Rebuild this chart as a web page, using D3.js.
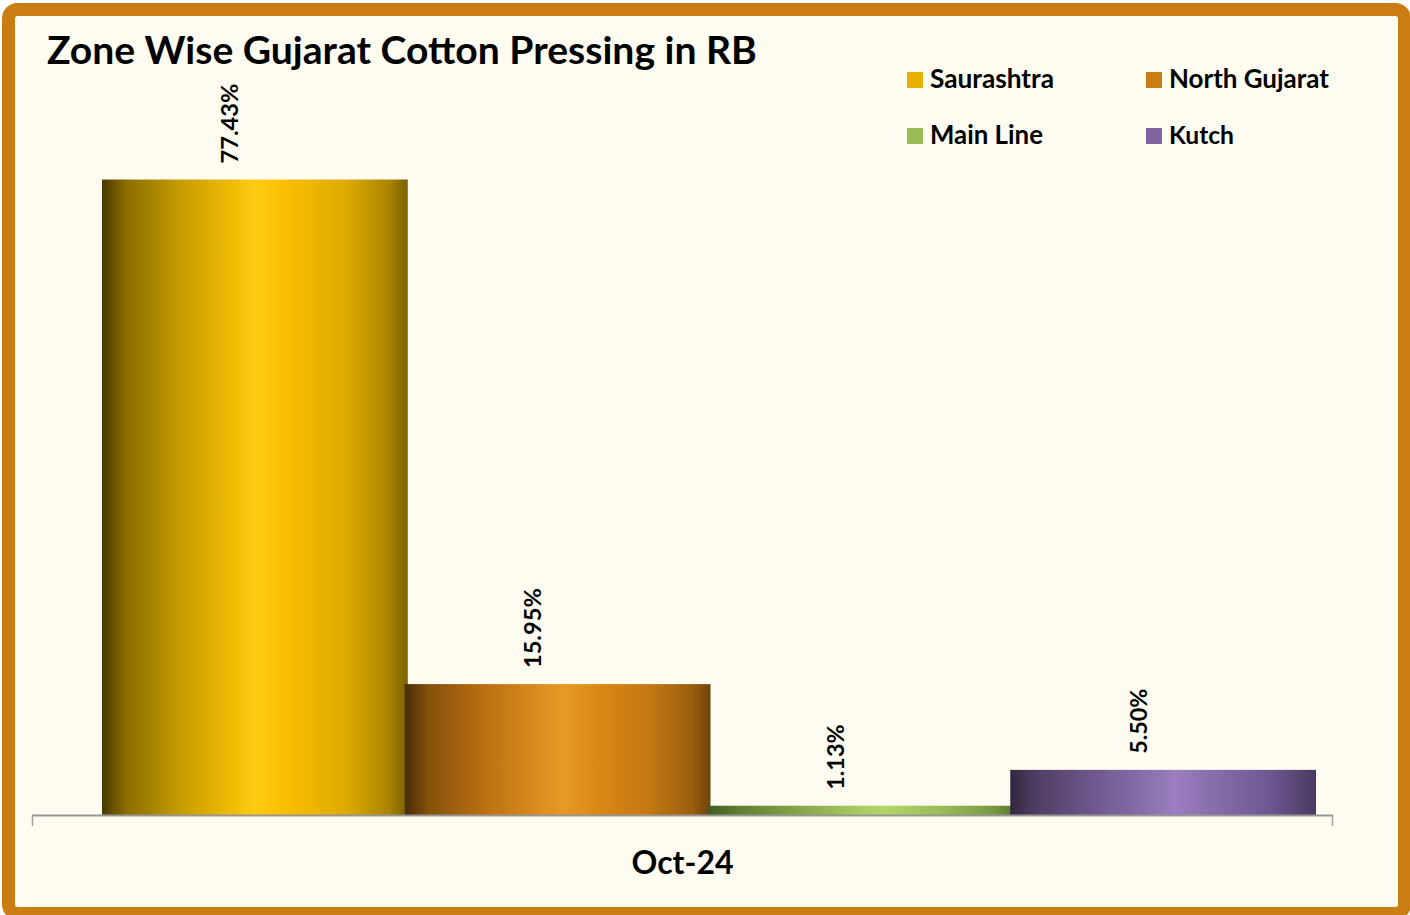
<!DOCTYPE html>
<html><head><meta charset="utf-8">
<script src="https://cdn.jsdelivr.net/npm/d3@7"></script>
<style>html,body{margin:0;padding:0;background:#fff;}svg{display:block;}</style>
</head><body>
<script>
const title = "Zone Wise Gujarat Cotton Pressing in RB";
const categories = ["Oct-24"];
const series = ["Saurashtra", "North Gujarat", "Main Line", "Kutch"];
const values = [77.43, 15.95, 1.13, 5.50];
const labels = ["77.43%", "15.95%", "1.13%", "5.50%"];
const legendColors = ["#EAB200", "#C97D13", "#9BBB59", "#8064A2"];
const gradStops = [
  [["0%","#4A3800"],["8%","#8C6E00"],["25%","#C49B00"],["42%","#EEBA04"],["50%","#FFCC14"],["60%","#FBBF00"],["80%","#DDAA00"],["94%","#A98400"],["100%","#7A6000"]],
  [["0%","#4A2C06"],["8%","#86510C"],["25%","#B86D10"],["42%","#D88A1E"],["52%","#E89A26"],["62%","#DC8A16"],["80%","#C47812"],["94%","#9A5E0E"],["100%","#6E440A"]],
  [["0%","#3E5A22"],["10%","#5E7E33"],["30%","#86A648"],["50%","#A8CC62"],["58%","#B2D66A"],["75%","#9CBE58"],["92%","#7E9C44"],["100%","#5E7A33"]],
  [["0%","#33263F"],["8%","#4E3D62"],["25%","#6C5489"],["45%","#8A70AE"],["54%","#9A7EC0"],["65%","#8A6FAE"],["85%","#6E5690"],["100%","#4A3A62"]]
];

const W = 1410, H = 915;
const svg = d3.select("body").append("svg").attr("width", W).attr("height", H);
const defs = svg.append("defs");
gradStops.forEach((st, i) => {
  const g = defs.append("linearGradient").attr("id", "g" + i).attr("x1", "0%").attr("x2", "100%").attr("y1", "0%").attr("y2", "0%");
  st.forEach(s => g.append("stop").attr("offset", s[0]).attr("stop-color", s[1]));
});

// background + border
svg.append("rect").attr("x", 8.5).attr("y", 9.5).attr("width", 1396).attr("height", 904)
  .attr("rx", 9).attr("fill", "#FEFCF0").attr("stroke", "#C97D13").attr("stroke-width", 13);

const FONT = "Lato, 'Open Sans', sans-serif";
function fitText(sel, targetW, baseSize) {
  sel.attr("font-size", baseSize);
  const w = sel.node().getComputedTextLength();
  sel.attr("font-size", baseSize * targetW / w);
}

// title
const t = svg.append("text").attr("x", 47).attr("y", 64).attr("font-family", FONT)
  .attr("font-weight", "bold").attr("fill", "#000").text(title);
fitText(t, 710, 34);

// scales
const baseY = 815;
const y = d3.scaleLinear().domain([0, 80]).range([baseY, baseY - 80 * 8.207]);
const xBars = d3.scaleBand().domain(series).range([102, 1313]).padding(0);
const xCat = d3.scaleBand().domain(categories).range([32, 1333]);

// bars
svg.selectAll("rect.bar").data(values).enter().append("rect").attr("class", "bar")
  .attr("x", (d, i) => xBars(series[i]))
  .attr("width", xBars.bandwidth() + 3)
  .attr("y", d => y(d))
  .attr("height", d => baseY - y(d))
  .attr("fill", (d, i) => `url(#g${i})`);

// axis
svg.append("line").attr("x1", 32).attr("x2", 1333).attr("y1", 815.5).attr("y2", 815.5)
  .attr("stroke", "#969696").attr("stroke-width", 2);
[32.5, 1332.5].forEach(x => svg.append("line").attr("x1", x).attr("x2", x).attr("y1", 815).attr("y2", 826)
  .attr("stroke", "#A0A0A0").attr("stroke-width", 1.5));

// value labels
values.forEach((v, i) => {
  const cx = xBars(series[i]) + xBars.bandwidth() / 2 - 15;
  const yy = y(v) - 16;
  const tx = svg.append("text").attr("transform", `translate(${cx},${yy}) rotate(-90)`)
    .attr("font-family", FONT).attr("font-weight", "bold").attr("fill", "#000").text(labels[i]);
  fitText(tx, 80 * labels[i].length / 6 * (i >= 2 ? 0.98 : 1), 22);
});

// category label
const ct = svg.append("text").attr("x", xCat(categories[0]) + xCat.bandwidth() / 2).attr("y", 874)
  .attr("text-anchor", "middle").attr("font-family", FONT).attr("font-weight", "bold").attr("fill", "#000").text(categories[0]);
fitText(ct, 102, 30);

// legend
const legPos = [[907, 72], [1146, 72], [907, 128], [1146, 128]];
const legW = [124, 160, 113, 65];
series.forEach((s, i) => {
  const [lx, ly] = legPos[i];
  svg.append("rect").attr("x", lx).attr("y", ly).attr("width", 16).attr("height", 16).attr("fill", legendColors[i]);
  const lt = svg.append("text").attr("x", lx + 23).attr("y", ly + 16).attr("font-family", FONT)
    .attr("font-weight", "bold").attr("fill", "#000").text(s);
  fitText(lt, legW[i], 24);
});
</script>
</body></html>
